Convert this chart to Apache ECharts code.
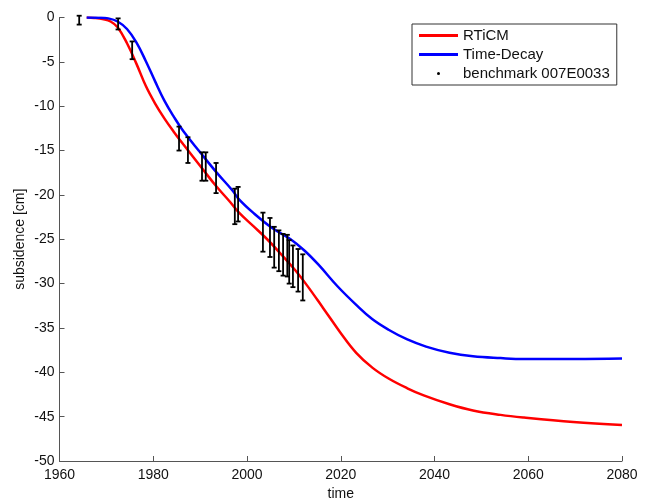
<!DOCTYPE html>
<html>
<head>
<meta charset="utf-8">
<script src="https://cdn.jsdelivr.net/npm/echarts@6/dist/echarts.min.js"></script>
<style>
html, body { margin: 0; padding: 0; background: #fff; }
#chart { width: 651px; height: 499px; }
</style>
</head>
<body>
<div id="chart"></div>
<script>
// RTiCM model curve [year, subsidence]
var rticm = [
    [1965.8, 0], [1967.4, -0.05], [1969.4, -0.2], [1970.9, -0.45], [1972.4, -1.1],
    [1974.4, -2.9], [1976.4, -5.2], [1978.4, -7.7], [1980.4, -9.7], [1982.4, -11.4],
    [1984.4, -12.9], [1986.4, -14.3], [1990.4, -17.0], [1993.4, -19.0], [1996.4, -20.8],
    [1998.3, -22.0], [2001.3, -23.5], [2004.3, -25.0], [2007.3, -26.7], [2010.3, -28.5],
    [2012.8, -30.2], [2016.3, -32.8], [2019.9, -35.5], [2023.3, -37.8], [2026.8, -39.5],
    [2030.2, -40.7], [2034.2, -41.8], [2037.7, -42.6], [2043.2, -43.6], [2048.2, -44.3],
    [2054.1, -44.8], [2059.1, -45.1], [2069.6, -45.6], [2080, -45.95]
];
// Time-Decay model curve
var timeDecay = [
    [1965.8, 0], [1968.4, -0.02], [1970.4, -0.1], [1972.4, -0.45], [1974.4, -1.3],
    [1976.4, -2.8], [1978.4, -4.9], [1980.4, -7.2], [1982.4, -9.4], [1984.4, -11.2],
    [1986.4, -12.8], [1990, -15.2], [1993.4, -17.4], [1996.9, -19.5], [1998.3, -20.5],
    [2001.3, -22.0], [2005.3, -23.7], [2009.3, -25.0], [2012.3, -26.3], [2015.3, -27.9],
    [2019.3, -30.3], [2023.3, -32.4], [2026.7, -34.0], [2030.2, -35.2], [2034.2, -36.3],
    [2038.2, -37.1], [2043.2, -37.8], [2048.2, -38.2], [2054.1, -38.4], [2059.1, -38.5],
    [2070, -38.5], [2080, -38.45]
];
// benchmark 007E0033 measurements with error range
var benchYears = [1964.2, 1972.5, 1975.5, 1985.5, 1987.4, 1990.4, 1991.2, 1993.4, 1997.4, 1998.1,
    2003.4, 2004.9, 2005.8, 2006.8, 2007.7, 2008.6, 2009.0, 2009.8, 2010.9, 2011.9];
var benchHigh = [0.2, -0.1, -2.7, -12.3, -13.5, -15.2, -15.2, -16.4, -19.3, -19.1,
    -22.0, -22.6, -23.6, -24.0, -24.4, -24.5, -25.1, -25.7, -26.1, -26.7];
var benchLow = [-0.8, -1.35, -4.7, -15.0, -16.4, -18.4, -18.4, -19.8, -23.3, -23.0,
    -26.4, -27.0, -28.2, -28.6, -29.1, -29.2, -30.0, -30.4, -30.9, -31.9];

var xTicks = { min: 1960, max: 2080, interval: 20 };
var yTicks = { min: -50, max: 0, interval: 5 };

var font = "'Liberation Sans', Arial, sans-serif";
var axisColor = "#555";

var benchData = benchYears.map(function (y, i) {
    return [y, benchHigh[i], benchLow[i]];
});

function renderErrorBar(params, api) {
    var x = api.value(0);
    var hi = api.coord([x, api.value(1)]);
    var lo = api.coord([x, api.value(2)]);
    var w = 2.5;
    var st = { stroke: "#000", lineWidth: 1.8 };
    return {
        type: "group",
        children: [
            { type: "line", shape: { x1: hi[0], y1: hi[1], x2: lo[0], y2: lo[1] }, style: st },
            { type: "line", shape: { x1: hi[0] - w, y1: hi[1], x2: hi[0] + w, y2: hi[1] }, style: st },
            { type: "line", shape: { x1: lo[0] - w, y1: lo[1], x2: lo[0] + w, y2: lo[1] }, style: st }
        ]
    };
}

var myChart = echarts.init(document.getElementById("chart"));
myChart.setOption({
    animation: false,
    textStyle: { fontFamily: font },
    grid: { left: 59.5, right: 29, top: 17.5, bottom: 38, outerBoundsMode: "none" },
    legend: {
        orient: "vertical",
        left: 412,
        top: 24,
        padding: [4, 7, 4, 7],
        itemGap: 4,
        itemWidth: 39,
        itemHeight: 3,
        borderColor: "#333",
        borderWidth: 1,
        backgroundColor: "#fff",
        textStyle: { fontFamily: font, fontSize: 15, color: "#111", lineHeight: 15 },
        data: [
            { name: "RTiCM", icon: "rect" },
            { name: "Time-Decay", icon: "rect" },
            { name: "benchmark 007E0033", icon: "circle" }
        ]
    },
    xAxis: {
        type: "value",
        min: xTicks.min,
        max: xTicks.max,
        interval: xTicks.interval,
        name: "time",
        nameLocation: "middle",
        nameGap: 25,
        nameTextStyle: { fontFamily: font, fontSize: 14, color: "#111" },
        axisLine: { onZero: false, lineStyle: { color: axisColor, width: 1 } },
        axisTick: { inside: true, length: 5, lineStyle: { color: axisColor } },
        axisLabel: {
            fontFamily: font, fontSize: 14, color: "#111", margin: 7,
            formatter: function (v) { return String(v); }
        },
        splitLine: { show: false }
    },
    yAxis: {
        type: "value",
        min: yTicks.min,
        max: yTicks.max,
        interval: yTicks.interval,
        name: "subsidence [cm]",
        nameLocation: "middle",
        nameGap: 32,
        nameMoveOverlap: false,
        nameTextStyle: { fontFamily: font, fontSize: 14, color: "#111" },
        axisLine: { show: true, onZero: false, lineStyle: { color: axisColor, width: 1 } },
        axisTick: { show: true, inside: true, length: 5, lineStyle: { color: axisColor } },
        axisLabel: { fontFamily: font, fontSize: 14, color: "#111", margin: 5 },
        splitLine: { show: false }
    },
    series: [
        {
            name: "RTiCM",
            type: "line",
            data: rticm,
            smooth: 0.4,
            showSymbol: false,
            itemStyle: { color: "#ff0000" },
            lineStyle: { color: "#ff0000", width: 2.5 }
        },
        {
            name: "Time-Decay",
            type: "line",
            data: timeDecay,
            smooth: 0.4,
            showSymbol: false,
            itemStyle: { color: "#0000ff" },
            lineStyle: { color: "#0000ff", width: 2.5 }
        },
        {
            name: "benchmark 007E0033",
            type: "custom",
            renderItem: renderErrorBar,
            itemStyle: { color: "#000" },
            encode: { x: 0, y: [1, 2] },
            data: benchData,
            z: 5
        }
    ]
});
</script>
</body>
</html>
